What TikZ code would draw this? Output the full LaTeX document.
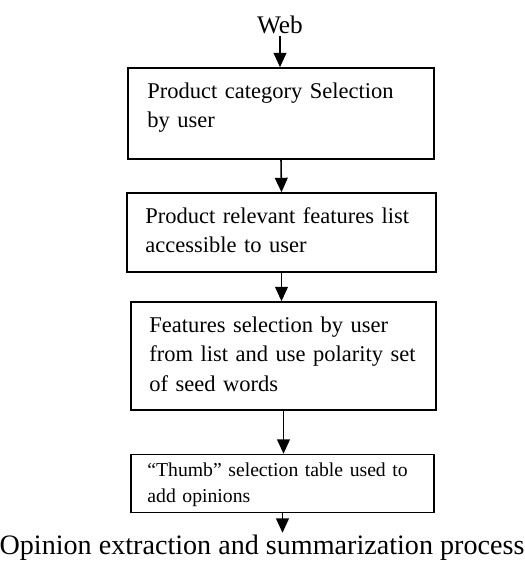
\documentclass[tikz,border=0pt]{standalone}
\usepackage{fontspec}
\setmainfont{Liberation Serif}
\usetikzlibrary{positioning}
\usetikzlibrary{arrows.meta}

\begin{document}
\begin{tikzpicture}[x=0.025cm, y=-0.025cm,
	stage/.style={rectangle, draw=black, line width=1.1pt, inner sep=0pt},
	stagetext/.style={anchor=base west, inner sep=0pt, text width=7cm, align=left, font=\fontsize{16}{21}\selectfont},
	flow/.style={line width=1.1pt, -{Triangle[length=0.36cm, width=0.32cm]}}]
	\useasboundingbox (0,0) rectangle (525,561);
	\node[anchor=base, inner sep=2pt, font=\fontsize{18}{22}\selectfont] (web) at (280,33) {Web};
	\node[stage, minimum width=7.65cm, minimum height=2.275cm] (sel) at (281,113.5) {};
	\node[stage, minimum width=7.725cm, minimum height=1.975cm] (feat) at (281.5,232.5) {};
	\node[stage, minimum width=7.625cm, minimum height=2.7cm] (pol) at (283.5,356) {};
	\node[stage, minimum width=7.575cm, minimum height=1.45cm] (thumb) at (282.5,483.5) {};
	\node[stagetext] (seltext) at ([shift={(20,31)}]sel.north west) {Product category Selection\\by user};
	\node[stagetext] (feattext) at ([shift={(19,31)}]feat.north west) {Product relevant features list\\accessible to user};
	\node[stagetext] (poltext) at ([shift={(19,31)}]pol.north west) {Features selection by user\\from list and use polarity set\\of seed words};
	\node[stagetext, font=\fontsize{14}{18.5}\selectfont] (thumbtext) at ([shift={(17,23)}]thumb.north west) {“Thumb” selection table used to\\add opinions};
	\node[anchor=base, inner sep=1pt, font=\fontsize{20}{24}\selectfont] (opin) at (262,554) {Opinion extraction and summarization process};
	\draw[flow] (web.south) -- (web.south |- sel.north);
	\draw[flow] (sel.south) -- (feat.north);
	\draw[flow] (feat.south) -- (feat.south |- pol.north);
	\draw[flow] (pol.south) -- (pol.south |- thumb.north);
	\draw[flow] (thumb.south) -- (thumb.south |- opin.north);
\end{tikzpicture}
\end{document}
